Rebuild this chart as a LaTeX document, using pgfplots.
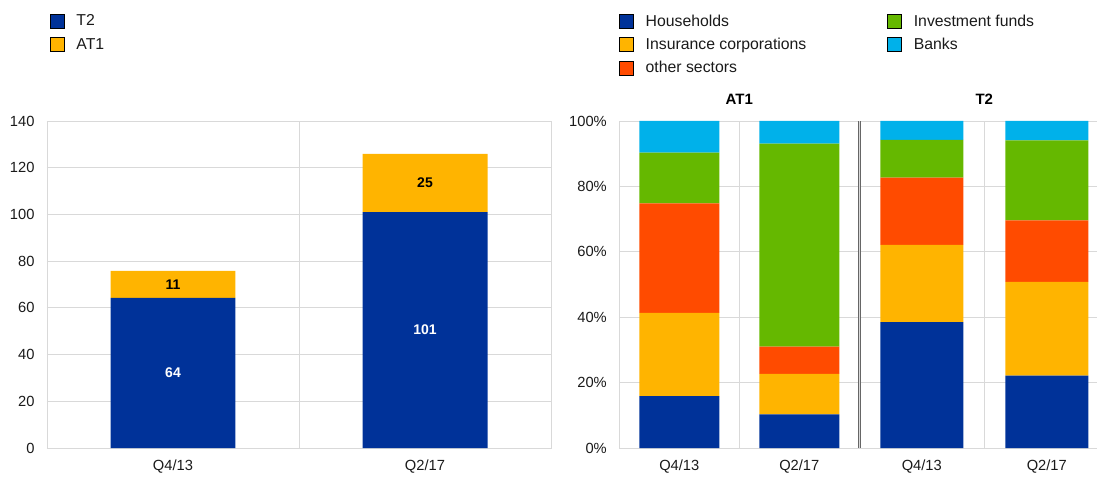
\documentclass[border=0pt]{standalone}
\usepackage{fontspec}
\setmainfont{Liberation Sans}
\usepackage{pgfplots}
\pgfplotsset{compat=1.18}
\definecolor{ecbblue}{HTML}{003299}
\definecolor{ecbyellow}{HTML}{FFB400}
\definecolor{ecbred}{HTML}{FF4B00}
\definecolor{ecbgreen}{HTML}{65B800}
\definecolor{ecbcyan}{HTML}{00B1EA}
\definecolor{gridgray}{HTML}{D9D9D9}
\definecolor{txt}{HTML}{1A1A1A}
\pgfplotsset{
  geom/.style={scale only axis, anchor=south west, height=327pt, ymin=0, xmin=0, xmax=2},
  base/.style={
    geom,
    ybar stacked,
    axis line style={gridgray, line width=0.8pt},
    tick style={draw=none},
    major tick length=0pt, minor tick length=0pt,
    ymajorgrids, xminorgrids,
    grid style={gridgray, line width=0.8pt},
    minor grid style={gridgray, line width=0.8pt},
    tick label style={font=\fontsize{14.7}{16}\selectfont, text=txt},
    yticklabel style={xshift=-9pt},
    xticklabel style={yshift=-8pt},
    /pgf/number format/assume math mode=true,
    xtick={0.5,1.5}, xticklabels={Q4/13,Q2/17},
    minor xtick={1},
    title style={font=\bfseries\fontsize{15}{17}\selectfont, text=black, at={(0.5,1)}, anchor=base, yshift=10pt},
    legend image code/.code={\fill[##1] (0pt,-7pt) rectangle (14pt,7pt);},
    legend cell align=left,
    legend style={draw=none, fill=none, inner sep=0pt, outer sep=0pt,
      font=\fontsize{15.8}{18}\selectfont, text=txt,
      at={(axis description cs:0,1)}, anchor=north west,
      nodes={inner sep=0pt, outer sep=0pt},
      row sep=9pt,
      /tikz/every odd column/.append style={column sep=12pt},
    },
  },
}
\begin{document}
\begin{tikzpicture}
\useasboundingbox (0,0) rectangle (1097pt,477pt);
% ---------------- left panel ----------------
\begin{axis}[base,
  at={(47pt,29pt)}, width=504pt,
  ymax=140, ytick={0,20,...,140},
  bar width=0.496,
  legend style={xshift=3pt, yshift=107pt},
]
\addlegendimage{fill=ecbblue}
\addlegendentry{T2}
\addlegendimage{fill=ecbyellow}
\addlegendentry{AT1}
\addplot[fill=ecbblue, draw=none] coordinates {(0.5,64.3) (1.5,101.0)};
\addplot[fill=ecbyellow, draw=none] coordinates {(0.5,11.5) (1.5,24.9)};
\end{axis}
% value labels (segment mid-points)
\begin{axis}[geom, at={(47pt,29pt)}, width=504pt, ymax=140, hide axis]
\addplot[draw=none, mark=none, point meta=explicit symbolic, nodes near coords,
  every node near coord/.append style={anchor=center, text=white, font=\bfseries\fontsize{14}{16}\selectfont}]
  coordinates {(0.5,32.15) [64] (1.5,50.5) [101]};
\addplot[draw=none, mark=none, point meta=explicit symbolic, nodes near coords,
  every node near coord/.append style={anchor=center, text=black, font=\bfseries\fontsize{14}{16}\selectfont}]
  coordinates {(0.5,70.05) [11] (1.5,113.45) [25]};
\end{axis}
% ---------------- right panel: AT1 ----------------
\begin{axis}[base,
  at={(619.3pt,29pt)}, width=240pt,
  ymax=100, ytick={0,20,...,100},
  yticklabel={\pgfmathprintnumber{\tick}\%},
  bar width=0.667,
  title={AT1},
  legend columns=2,
  legend style={xshift=0pt, yshift=107pt,
    /tikz/every even column/.append style={column sep=81pt}},
]
\addlegendimage{fill=ecbblue}
\addlegendentry{Households}
\addlegendimage{fill=ecbgreen}
\addlegendentry{Investment funds}
\addlegendimage{fill=ecbyellow}
\addlegendentry{Insurance corporations}
\addlegendimage{fill=ecbcyan}
\addlegendentry{Banks}
\addlegendimage{fill=ecbred}
\addlegendentry{other sectors}
\addplot[fill=ecbblue, draw=none] coordinates {(0.5,15.9) (1.5,10.3)};
\addplot[fill=ecbyellow, draw=none] coordinates {(0.5,25.4) (1.5,12.4)};
\addplot[fill=ecbred, draw=none] coordinates {(0.5,33.5) (1.5,8.3)};
\addplot[fill=ecbgreen, draw=none] coordinates {(0.5,15.5) (1.5,62.1)};
\addplot[fill=ecbcyan, draw=none] coordinates {(0.5,9.7) (1.5,6.9)};
\end{axis}
% ---------------- right panel: T2 ----------------
\begin{axis}[base,
  at={(859.3pt,29pt)}, width=250pt,
  ymax=100, ytick={0,20,...,100},
  yticklabels={},
  bar width=0.664,
  title={T2},
  extra x ticks={0}, extra x tick labels={},
  extra x tick style={grid=major, major grid style={draw=black!60, line width=0.7pt, double=white!85!black, double distance=1pt}},
]
\addplot[fill=ecbblue, draw=none] coordinates {(0.5,38.5) (1.5,22.1)};
\addplot[fill=ecbyellow, draw=none] coordinates {(0.5,23.6) (1.5,28.7)};
\addplot[fill=ecbred, draw=none] coordinates {(0.5,20.6) (1.5,18.8)};
\addplot[fill=ecbgreen, draw=none] coordinates {(0.5,11.5) (1.5,24.5)};
\addplot[fill=ecbcyan, draw=none] coordinates {(0.5,5.8) (1.5,5.9)};
\end{axis}
\end{tikzpicture}
\end{document}
